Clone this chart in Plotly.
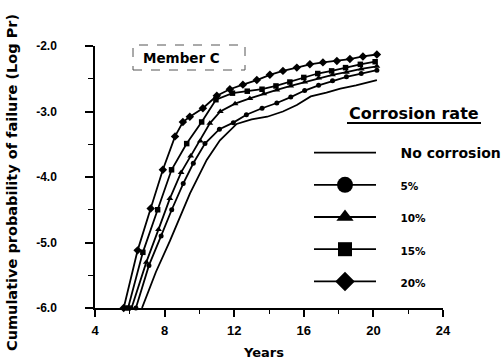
import plotly.graph_objects as go

# ---------------- data ----------------
years_none = [6.7, 7.5, 8.3, 8.79, 9.46, 10.42, 11.18, 12.14, 13.0, 13.9, 14.8, 15.6, 16.4, 17.3, 18.1, 19.0, 20.2]
logpr_none = [-6.0, -5.45, -4.98, -4.66, -4.25, -3.74, -3.44, -3.19, -3.12, -3.08, -3.0, -2.90, -2.77, -2.71, -2.65, -2.60, -2.52]

years_5 = [6.35, 7.1, 7.8, 8.41, 9.07, 9.65, 10.32, 11.15, 11.95, 12.7, 13.6, 14.45, 15.25, 16.05, 16.85, 17.65, 18.45, 19.3, 20.2]
logpr_5 = [-6.0, -5.35, -4.9, -4.5, -4.1, -3.79, -3.49, -3.27, -3.17, -3.05, -2.95, -2.87, -2.78, -2.68, -2.60, -2.53, -2.47, -2.42, -2.37]

years_10 = [6.1, 6.95, 7.65, 8.3, 8.95, 9.5, 10.05, 10.6, 11.2, 12.05, 12.9, 13.7, 14.45, 15.25, 16.05, 16.85, 17.65, 18.45, 19.3, 20.2]
logpr_10 = [-6.0, -5.3, -4.8, -4.33, -3.93, -3.68, -3.45, -3.18, -3.0, -2.88, -2.80, -2.73, -2.67, -2.61, -2.55, -2.49, -2.44, -2.40, -2.35, -2.31]

years_15 = [5.9, 6.75, 7.6, 8.4, 9.27, 10.13, 10.95, 11.9, 12.75, 13.6, 14.4, 15.2, 16.0, 16.8, 17.6, 18.4, 19.25, 20.1]
logpr_15 = [-6.0, -5.15, -4.5, -3.89, -3.49, -3.16, -2.82, -2.72, -2.69, -2.66, -2.61, -2.55, -2.48, -2.42, -2.38, -2.33, -2.28, -2.24]

years_20 = [5.65, 6.45, 7.2, 7.9, 8.6, 9.05, 9.45, 10.2, 11.0, 11.75, 12.5, 13.3, 14.05, 14.8, 15.6, 16.35, 17.1, 17.9, 18.65, 19.4, 20.2]
logpr_20 = [-6.0, -5.12, -4.48, -3.89, -3.38, -3.16, -3.08, -2.95, -2.76, -2.66, -2.59, -2.52, -2.44, -2.38, -2.33, -2.28, -2.25, -2.23, -2.20, -2.16, -2.13]

series_names = ["No corrosion", "5%", "10%", "15%", "20%"]
x_ticks = [4, 8, 12, 16, 20, 24]
y_ticks = [-6.0, -5.0, -4.0, -3.0, -2.0]

# ---------------- layout helpers ----------------
W, H = 503, 362
L, R, T, B = 95, 60, 46, 54
PW, PH = W - L - R, H - T - B


def px(X):
    return (X - L) / PW


def py(Y):
    return (H - B - Y) / PH


BOLD = "DejaVu Sans"
TICKF = "Liberation Sans"
PAD = "\u00a0" * 4

fig = go.Figure()

styles = [
    (years_none, logpr_none, None, 0),
    (years_5, logpr_5, "circle", 5),
    (years_10, logpr_10, "triangle-up", 6),
    (years_15, logpr_15, "square", 5.5),
    (years_20, logpr_20, "diamond", 6.5),
]

for (xs, ys, sym, sz), name in zip(styles, series_names):
    fig.add_trace(go.Scatter(
        x=xs, y=ys, name=name,
        mode="lines" if sym is None else "lines+markers",
        line=dict(color="black", width=1.8),
        marker=dict(symbol=sym or "circle", size=sz, color="black"),
        cliponaxis=False, showlegend=False,
    ))

# legend-only samples (larger markers, like the original key)
legend_sizes = [0, 16, 15, 14, 15]
for (xs, ys, sym, sz), name, lsz in zip(styles, series_names, legend_sizes):
    label = PAD + (name if sym is None else f"<span style='font-size:10.5px'>{name}</span>")
    fig.add_trace(go.Scatter(
        x=[None], y=[None], name=label,
        mode="lines" if sym is None else "lines+markers",
        line=dict(color="black", width=1.8),
        marker=dict(symbol=sym or "circle", size=lsz, color="black"),
        legendgroup=name, showlegend=True,
    ))

fig.update_layout(
    width=W, height=H,
    margin=dict(l=L, r=R, t=T, b=B, autoexpand=False),
    paper_bgcolor="white", plot_bgcolor="white",
    showlegend=True,
    legend=dict(
        x=px(309), y=py(137), xanchor="left", yanchor="top",
        font=dict(family=BOLD, size=14, color="black", weight="bold"),
        bgcolor="rgba(0,0,0,0)", tracegroupgap=11, itemwidth=62,
        itemsizing="trace",
    ),
    xaxis=dict(
        range=[4, 24], tickvals=x_ticks, ticktext=[str(v) for v in x_ticks],
        showline=True, linecolor="black", linewidth=1.5,
        ticks="outside", ticklen=7, tickwidth=1.5, tickcolor="black",
        minor=dict(dtick=2, ticks="outside", ticklen=4, tickwidth=1.2, tickcolor="black"),
        showgrid=False, zeroline=False,
        tickfont=dict(family="Liberation Sans Narrow, Liberation Sans", size=13, color="black", weight="bold"),
        ticklabelstandoff=3,
    ),
    yaxis=dict(
        range=[-6, -2], tickvals=y_ticks, ticktext=[f"{v:.1f}" for v in y_ticks],
        showline=True, linecolor="black", linewidth=1.5,
        ticks="outside", ticklen=8, tickwidth=1.5, tickcolor="black",
        minor=dict(dtick=0.5, ticks="outside", ticklen=5, tickwidth=1.2, tickcolor="black"),
        showgrid=False, zeroline=False,
        tickfont=dict(family=TICKF, size=12, color="black", weight="bold"),
        ticklabelstandoff=26,
    ),
)

# axis titles
fig.add_annotation(text="Years", xref="paper", yref="paper", x=px(263), y=py(352),
                   xanchor="center", yanchor="middle", showarrow=False,
                   font=dict(family=BOLD, size=13, color="black", weight="bold"))
fig.add_annotation(text="Cumulative probability of failure (Log Pr)", xref="paper", yref="paper",
                   x=px(12), y=py(183), xanchor="center", yanchor="middle", textangle=-90,
                   showarrow=False, font=dict(family=BOLD, size=14.5, color="black", weight="bold"))

# Member C box
fig.add_shape(type="rect", xref="paper", yref="paper", x0=px(133), x1=px(245), y0=py(70), y1=py(45),
              line=dict(color="#555555", width=1, dash="dash"))
fig.add_annotation(text="Member C", xref="paper", yref="paper", x=px(141), y=py(58),
                   xanchor="left", yanchor="middle", showarrow=False,
                   font=dict(family=BOLD, size=13.5, color="black", weight="bold"))

# legend title
fig.add_annotation(text="Corrosion rate", xref="paper", yref="paper", x=px(347), y=py(113),
                   xanchor="left", yanchor="middle", showarrow=False,
                   font=dict(family=BOLD, size=16, color="black", weight="bold"))
fig.add_shape(type="line", xref="paper", yref="paper", x0=px(347), x1=px(481), y0=py(123), y1=py(123),
              line=dict(color="black", width=2))

fig.write_html("out.html")
